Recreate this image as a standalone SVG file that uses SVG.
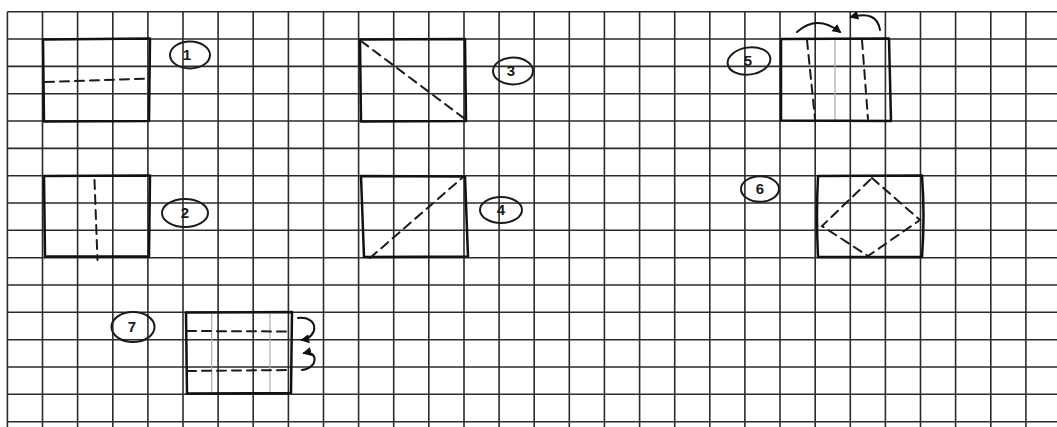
<svg xmlns="http://www.w3.org/2000/svg" width="1057" height="427" viewBox="0 0 1057 427">
<defs>
<style>
.grid{fill:none;stroke:#2b2b2b;stroke-width:1.6}
.box{fill:none;stroke:#111;stroke-width:2.5;stroke-linejoin:round;stroke-linecap:round}
.dash{fill:none;stroke:#1a1a1a;stroke-width:2;stroke-dasharray:9 6;stroke-linecap:round}
.faint{fill:none;stroke:#aaa;stroke-width:1.2}
.lab{fill:none;stroke:#1a1a1a;stroke-width:2}
.num{font-family:"Liberation Sans",Arial,sans-serif;font-size:15px;font-weight:bold;fill:#1a1a1a;text-anchor:middle}
.arr{fill:none;stroke:#111;stroke-width:2;stroke-linecap:round}
</style>
<marker id="ah" viewBox="0 0 10 10" refX="8" refY="5" markerWidth="4.5" markerHeight="4.5" orient="auto" markerUnits="strokeWidth">
<path d="M0 0 L10 5 L0 10 Z" fill="#111"/>
</marker>
</defs>
<rect width="1057" height="427" fill="#fff"/>
<g id="grid">
<path class="grid" d="M7.4 11.7V427M42.5 11.7V427M77.6 11.7V427M112.8 11.7V427M147.9 11.7V427M183 11.7V427M218.1 11.7V427M253.2 11.7V427M288.4 11.7V427M323.5 11.7V427M358.6 11.7V427M393.7 11.7V427M428.8 11.7V427M464 11.7V427M499.1 11.7V427M534.2 11.7V427M569.3 11.7V427M604.4 11.7V427M639.6 11.7V427M674.7 11.7V427M709.8 11.7V427M744.9 11.7V427M780 11.7V427M815.2 11.7V427M850.3 11.7V427M885.4 11.7V427M920.5 11.7V427M955.6 11.7V427M990.8 11.7V427M1025.9 11.7V427"/>
<path class="grid" d="M7.4 11.7H1057M7.4 39H1057M7.4 66.4H1057M7.4 93.7H1057M7.4 121H1057M7.4 148.4H1057M7.4 175.7H1057M7.4 203H1057M7.4 230.3H1057M7.4 257.7H1057M7.4 285H1057M7.4 312.3H1057M7.4 339.7H1057M7.4 367H1057M7.4 394.3H1057M7.4 421.7H1057"/>
</g>
<g id="node1">
<path class="box" d="M43 39.5 L150 38.5 L149 121 L44 121.5 Z"/>
<path class="dash" d="M45 82 L149 78.5"/>
<ellipse class="lab" cx="190" cy="55" rx="20" ry="13.5"/>
<text class="num" x="187" y="60">1</text>
</g>
<g id="node2">
<path class="box" d="M44 176 L150 175.5 L149 256.5 L45 256.5 Z"/>
<path class="dash" d="M94.5 180 L97.5 260"/>
<ellipse class="lab" cx="185" cy="213" rx="23" ry="14"/>
<text class="num" x="185" y="218">2</text>
</g>
<g id="node3">
<path class="box" d="M360 39.5 L465 39 L466 121 L361 121.5 Z"/>
<path class="dash" d="M361 41 L465 119"/>
<ellipse class="lab" cx="513" cy="71" rx="20" ry="13.5"/>
<text class="num" x="511" y="76">3</text>
</g>
<g id="node4">
<path class="box" d="M361 176 L465 176.5 L468 256.5 L364 257 Z"/>
<path class="dash" d="M370 258 L462 178"/>
<ellipse class="lab" cx="501" cy="210" rx="21" ry="13"/>
<text class="num" x="501" y="215">4</text>
</g>
<g id="node5">
<path class="faint" d="M835 40V120"/>
<path class="box" d="M781 39 L889 38.5 L891 121 L781 120.5 Z"/>
<path class="dash" d="M807 40 L815 119"/>
<path class="dash" d="M862 40 L868 119"/>
<ellipse class="lab" cx="749" cy="61" rx="21.5" ry="13.5" transform="rotate(-8 749 61)"/>
<text class="num" x="748" y="66">5</text>
</g>
<g id="node6">
<path class="box" d="M818 176 L922 175.5 Q925 216 922 257 L818 257 Q816 216 818 176 Z"/>
<path class="dash" d="M872 178 L920 220 L868 256 L822 226 Z"/>
<ellipse class="lab" cx="760" cy="189" rx="19" ry="12.7"/>
<text class="num" x="760" y="194">6</text>
</g>
<g id="node7">
<path class="faint" d="M211.7 314V392M270 314V392"/>
<path class="box" d="M186 312.5 L292 312 L291 393 L187 393.5 Z"/>
<path class="dash" d="M187 331 L290 331.5"/>
<path class="dash" d="M187 371 L291 370"/>
<ellipse class="lab" cx="133" cy="327" rx="21.5" ry="15"/>
<text class="num" x="132" y="332">7</text>
</g>
<g id="connectors">
<path class="arr" d="M797 32 Q817 14 840 32" marker-end="url(#ah)"/>
<path class="arr" d="M880 30 Q877 10 851 17" marker-end="url(#ah)"/>
<path class="arr" d="M298 318 C319 316 319 337 302 340" marker-end="url(#ah)"/>
<path class="arr" d="M302 370 C319 368 318 350 304 353" marker-end="url(#ah)"/>
</g>
</svg>
